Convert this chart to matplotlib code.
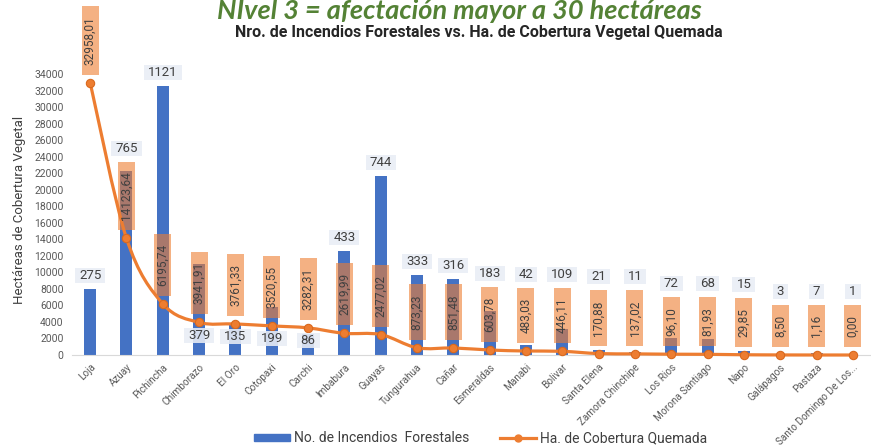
import numpy as np
import matplotlib
matplotlib.use('Agg')
import matplotlib.pyplot as plt
from matplotlib.path import Path
from matplotlib.patches import PathPatch, Rectangle, Patch
from matplotlib.lines import Line2D
from matplotlib.transforms import IdentityTransform

plt.rcParams['font.family'] = ['Roboto', 'DejaVu Sans']

provincias = ['Loja', 'Azuay', 'Pichincha', 'Chimborazo', 'El Oro', 'Cotopaxi',
              'Carchi', 'Imbabura', 'Guayas', 'Tungurahua', 'Cañar', 'Esmeraldas',
              'Manabi', 'Bolivar', 'Santa Elena', 'Zamora Chinchipe', 'Los Rios',
              'Morona Santiago', 'Napo', 'Galápagos', 'Pastaza', 'Santo Domingo De Los...']
incendios = [275, 765, 1121, 379, 135, 199, 86, 433, 744, 333, 316, 183,
             42, 109, 21, 11, 72, 68, 15, 3, 7, 1]
hectareas = [32958.01, 14123.64, 6195.74, 3941.91, 3761.33, 3520.55, 3282.31,
             2619.99, 2477.02, 873.23, 851.48, 603.78, 483.03, 446.11, 170.88,
             137.02, 96.10, 81.93, 29.85, 8.50, 1.16, 0.00]
# labels of counts that sit under the line in the original
etiquetas_abajo = ['Chimborazo', 'El Oro', 'Cotopaxi', 'Carchi']

AZUL = '#4472C4'
NARANJA = '#ED7D31'
GRIS = '#404040'

W, H = 871, 446
fig = plt.figure(figsize=(W / 100, H / 100), dpi=100)
ax = fig.add_axes([72 / W, 91 / H, 799 / W, 281 / H])
ax2 = ax.twinx()
ax.set_zorder(ax2.get_zorder() + 1)
ax.patch.set_visible(False)

n = len(provincias)
x = np.arange(n)

ax2.bar(x, incendios, width=0.33, color=AZUL, zorder=2)
ax2.set_ylim(0, 1170)
ax2.set_yticks([])
for s in ax2.spines.values():
    s.set_visible(False)

ax.set_xlim(-0.5, n - 0.5)
ax.set_ylim(0, 34000)
ax.set_yticks(range(0, 34001, 2000))
ax.tick_params(axis='y', labelsize=7.5, colors='#595959', length=0, pad=6)
ax.set_xticks(x)
ax.set_xticklabels(provincias, rotation=45, ha='right', va='top',
                   rotation_mode='anchor', fontsize=7.2, color='#595959')
ax.tick_params(axis='x', length=0, pad=5)
for k in ['top', 'right', 'left']:
    ax.spines[k].set_visible(False)
ax.spines['bottom'].set_color('#D9D9D9')

# smoothed line (Catmull-Rom -> Bezier), like Excel's smooth line
ys = np.array(hectareas)
verts = [(x[0], ys[0])]
codes = [Path.MOVETO]
for i in range(n - 1):
    p0 = np.array([x[max(i - 1, 0)], ys[max(i - 1, 0)]])
    p1 = np.array([x[i], ys[i]])
    p2 = np.array([x[i + 1], ys[i + 1]])
    p3 = np.array([x[min(i + 2, n - 1)], ys[min(i + 2, n - 1)]])
    c1 = p1 + (p2 - p0) / 6
    c2 = p2 - (p3 - p1) / 6
    verts += [tuple(c1), tuple(c2), tuple(p2)]
    codes += [Path.CURVE4] * 3
ax.add_patch(PathPatch(Path(verts, codes), fc='none', ec=NARANJA, lw=2.3,
                       zorder=3, clip_on=False))
ax.plot(x, ys, 'o', ms=6, mfc=NARANJA, mec='#D9691E', mew=0.8, zorder=3.5,
        clip_on=False)

fig.canvas.draw()
rend = fig.canvas.get_renderer()


def caja(xc, ybase, texto, rot, fs, padx, pady, fc, alpha, z):
    t = ax.text(0, 0, texto, rotation=rot, fontsize=fs, color=GRIS, ha='center',
                va='center', transform=IdentityTransform(), zorder=z + 0.1)
    ext = t.get_window_extent(rend)
    w = ext.width + 2 * padx
    h = ext.height + 2 * pady
    t.set_position((xc, ybase + h / 2))
    ax.add_patch(Rectangle((xc - w / 2, ybase), w, h, transform=IdentityTransform(),
                           fc=fc, ec='none', alpha=alpha, zorder=z, clip_on=False))
    return ybase, ybase + h


for i in range(n):
    px, py = ax.transData.transform((x[i], hectareas[i]))
    txt = f'{hectareas[i]:.2f}'.replace('.', ',')
    b0, b1 = caja(px, py + 8, txt, 90, 8.5, 2.0, 10, NARANJA, 0.6, 4)

    top = ax2.transData.transform((x[i], incendios[i]))[1]
    lbl_h = 17
    gap = 6
    if provincias[i] in etiquetas_abajo:
        ybase = py - 12 - lbl_h / 2
    elif b0 >= top + 2 * gap + lbl_h or b1 <= top:
        ybase = top + gap
    else:
        ybase = b1 + gap
    caja(px, ybase, str(incendios[i]), 0, 9.5, 4, 1, '#E9EDF5', 0.88, 5)

fig.text(20 / W, 1 - 210 / H, 'Hectáreas de Cobertura Vegetal', rotation=90,
         fontsize=9.5, color=GRIS, ha='center', va='center')
fig.text(459 / W, 1 - 19 / H, 'NIvel 3 = afectación mayor a 30 hectáreas',
         family=['Lato', 'DejaVu Sans'], fontsize=19.5, fontweight='bold',
         style='italic', color='#548235', ha='center', va='baseline')
fig.text(479 / W, 1 - 32 / H,
         'Nro. de Incendios Forestales vs. Ha. de Cobertura Vegetal Quemada',
         fontsize=11.5, fontweight='bold', color='#262626', ha='center', va='center')

handles = [Patch(color=AZUL),
           Line2D([], [], color=NARANJA, lw=2.3, marker='o', ms=5, mfc=NARANJA)]
fig.legend(handles, ['No. de Incendios  Forestales', 'Ha. de Cobertura Quemada'],
           loc='center', bbox_to_anchor=(0.552, 1 - 438 / H), ncol=2, fontsize=10,
           frameon=False, handlelength=2.6, handleheight=0.4, columnspacing=2.2,
           labelcolor=GRIS, handletextpad=0.3)

fig.savefig('out.png', dpi=100)
